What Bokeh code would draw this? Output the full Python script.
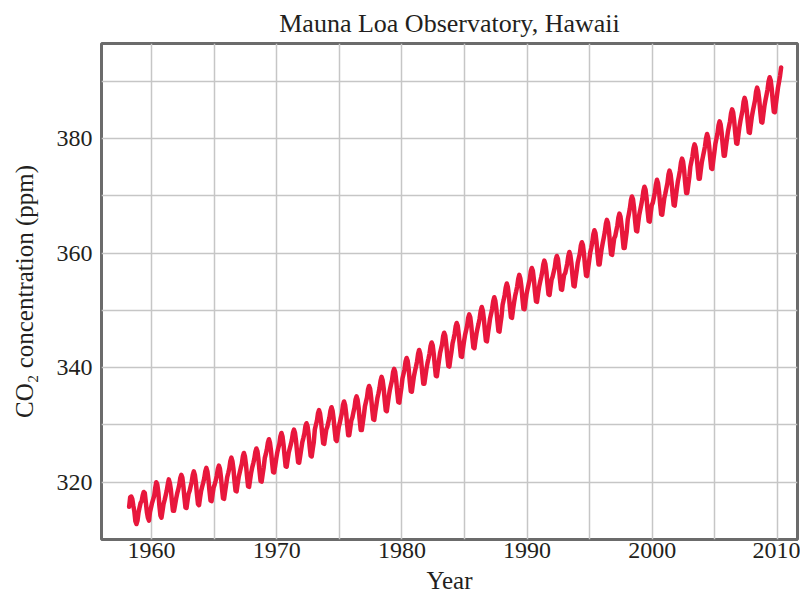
from bokeh.plotting import figure
from bokeh.models import FixedTicker
from bokeh.embed import file_html
from bokeh.resources import INLINE

# Monthly CO2 (ppm), Mauna Loa, starting March 1958
start_year = 1958
start_month = 3

co2_1950s = [315.7, 317.4, 317.5, 317.1, 315.9, 314.9, 313.2, 312.7, 313.3, 314.7,
             315.6, 316.4, 316.7, 317.7, 318.3, 318.1, 316.5, 314.8, 313.8, 313.3, 314.8, 315.6]

co2_1960s = [316.4, 317.0, 317.6, 319.0, 320.0, 319.6, 318.2, 315.9, 314.2, 313.8, 315.0, 316.2,
             316.9, 317.7, 318.5, 319.6, 320.5, 319.9, 318.7, 316.7, 315.0, 315.0, 316.0, 317.1,
             318.0, 318.7, 319.5, 320.7, 321.3, 320.8, 319.3, 317.3, 315.6, 315.5, 316.8, 318.0,
             318.5, 319.3, 320.1, 321.3, 321.9, 321.3, 319.9, 317.9, 316.2, 316.0, 317.3, 318.5,
             319.2, 319.9, 320.7, 321.9, 322.5, 321.9, 320.5, 318.5, 316.8, 316.7, 317.9, 319.1,
             319.6, 320.3, 321.1, 322.3, 322.9, 322.4, 320.9, 318.9, 317.2, 317.1, 318.4, 319.6,
             320.9, 321.6, 322.4, 323.7, 324.3, 323.7, 322.3, 320.2, 318.5, 318.4, 319.7, 320.9,
             321.7, 322.5, 323.2, 324.5, 325.1, 324.5, 323.1, 321.1, 319.3, 319.2, 320.5, 321.7,
             322.6, 323.3, 324.1, 325.3, 325.9, 325.4, 323.9, 321.9, 320.2, 320.1, 321.4, 322.6,
             324.2, 324.9, 325.7, 326.9, 327.5, 326.9, 325.5, 323.5, 321.8, 321.7, 322.9, 324.1]

co2_1970s = [325.2, 326.0, 326.7, 328.0, 328.6, 328.0, 326.6, 324.6, 322.8, 322.7, 324.0, 325.2,
             325.9, 326.6, 327.4, 328.6, 329.2, 328.6, 327.2, 325.2, 323.5, 323.4, 324.6, 325.8,
             327.0, 327.7, 328.5, 329.8, 330.3, 329.8, 328.4, 326.3, 324.6, 324.5, 325.8, 327.0,
             329.2, 330.0, 330.7, 332.0, 332.6, 332.0, 330.6, 328.6, 326.8, 326.7, 328.0, 329.2,
             329.7, 330.5, 331.3, 332.5, 333.1, 332.5, 331.1, 329.1, 327.4, 327.2, 328.5, 329.7,
             330.4, 331.3, 332.1, 333.5, 334.1, 333.5, 332.1, 330.0, 328.2, 328.2, 329.5, 330.8,
             331.3, 332.2, 333.0, 334.4, 335.0, 334.4, 333.0, 330.9, 329.1, 329.1, 330.4, 331.7,
             333.2, 334.0, 334.8, 336.2, 336.8, 336.3, 334.8, 332.7, 331.0, 330.9, 332.3, 333.5,
             334.7, 335.5, 336.4, 337.7, 338.4, 337.8, 336.4, 334.3, 332.5, 332.4, 333.8, 335.1,
             336.2, 337.0, 337.8, 339.2, 339.8, 339.3, 337.8, 335.7, 334.0, 333.9, 335.3, 336.5]

co2_1980s = [338.1, 338.9, 339.7, 341.1, 341.7, 341.2, 339.7, 337.6, 335.9, 335.8, 337.2, 338.5,
             339.4, 340.2, 341.1, 342.4, 343.1, 342.5, 341.1, 339.0, 337.2, 337.2, 338.5, 339.8,
             340.8, 341.6, 342.5, 343.8, 344.4, 343.9, 342.4, 340.4, 338.6, 338.5, 339.9, 341.2,
             342.5, 343.3, 344.1, 345.5, 346.1, 345.6, 344.1, 342.0, 340.3, 340.2, 341.6, 342.8,
             344.2, 345.0, 345.9, 347.2, 347.8, 347.3, 345.8, 343.8, 342.0, 341.9, 343.3, 344.6,
             345.7, 346.5, 347.3, 348.7, 349.3, 348.8, 347.3, 345.2, 343.5, 343.4, 344.8, 346.0,
             346.9, 347.7, 348.6, 349.9, 350.6, 350.0, 348.6, 346.5, 344.7, 344.6, 346.0, 347.3,
             348.6, 349.4, 350.3, 351.6, 352.3, 351.7, 350.3, 348.2, 346.4, 346.3, 347.7, 349.0,
             351.0, 351.8, 352.7, 354.0, 354.7, 354.1, 352.6, 350.6, 348.8, 348.7, 350.1, 351.4,
             352.5, 353.3, 354.2, 355.5, 356.2, 355.6, 354.2, 352.1, 350.3, 350.2, 351.6, 352.9]

co2_1990s = [353.8, 354.6, 355.4, 356.8, 357.4, 356.9, 355.4, 353.3, 351.6, 351.5, 352.9, 354.1,
             355.0, 355.8, 356.7, 358.0, 358.7, 358.1, 356.7, 354.6, 352.8, 352.7, 354.1, 355.4,
             355.9, 356.7, 357.5, 358.9, 359.5, 359.0, 357.5, 355.4, 353.7, 353.6, 355.0, 356.2,
             356.5, 357.3, 358.2, 359.5, 360.2, 359.6, 358.2, 356.1, 354.3, 354.2, 355.6, 356.9,
             358.3, 359.1, 359.9, 361.3, 361.9, 361.4, 359.9, 357.8, 356.1, 356.0, 357.4, 358.7,
             360.1, 360.9, 361.9, 363.3, 364.0, 363.5, 362.0, 359.8, 358.0, 358.0, 359.5, 360.8,
             361.8, 362.7, 363.7, 365.1, 365.8, 365.3, 363.8, 361.6, 359.8, 359.7, 361.2, 362.6,
             363.0, 363.9, 364.8, 366.2, 366.9, 366.4, 364.9, 362.8, 360.9, 360.9, 362.4, 363.8,
             365.9, 366.8, 367.8, 369.2, 369.9, 369.4, 367.9, 365.7, 363.9, 363.8, 365.3, 366.7,
             367.6, 368.5, 369.5, 370.9, 371.6, 371.1, 369.6, 367.4, 365.6, 365.5, 367.0, 368.4]

co2_2000s = [368.8, 369.7, 370.6, 372.0, 372.8, 372.2, 370.7, 368.6, 366.8, 366.7, 368.2, 369.6,
             370.4, 371.3, 372.2, 373.7, 374.4, 373.8, 372.3, 370.2, 368.4, 368.3, 369.8, 371.2,
             372.5, 373.4, 374.4, 375.8, 376.5, 376.0, 374.5, 372.3, 370.5, 370.5, 371.9, 373.3,
             375.1, 376.0, 376.9, 378.3, 379.0, 378.5, 377.0, 374.9, 373.0, 373.0, 374.5, 375.9,
             376.8, 377.7, 378.6, 380.0, 380.8, 380.2, 378.7, 376.6, 374.8, 374.7, 376.2, 377.6,
             379.1, 380.0, 380.9, 382.3, 383.0, 382.5, 381.0, 378.9, 377.0, 377.0, 378.5, 379.9,
             381.2, 382.1, 383.0, 384.4, 385.1, 384.6, 383.1, 381.0, 379.2, 379.1, 380.6, 382.0,
             383.1, 384.0, 384.9, 386.4, 387.1, 386.5, 385.0, 382.9, 381.1, 381.0, 382.5, 383.9,
             384.9, 385.8, 386.7, 388.2, 388.9, 388.3, 386.9, 384.7, 382.9, 382.8, 384.3, 385.7,
             386.7, 387.6, 388.6, 390.0, 390.7, 390.2, 388.7, 386.5, 384.7, 384.6, 386.1, 387.5]

co2_2010 = [388.9, 389.9, 391.0, 392.4]

x_major_ticks = [1960, 1970, 1980, 1990, 2000, 2010]
x_grid_ticks = [1960, 1965, 1970, 1975, 1980, 1985, 1990, 1995, 2000, 2005, 2010]
y_major_ticks = [320, 340, 360, 380]
y_grid_ticks = [320, 330, 340, 350, 360, 370, 380, 390]

co2 = co2_1950s + co2_1960s + co2_1970s + co2_1980s + co2_1990s + co2_2000s + co2_2010
dates = [start_year + (start_month - 1 + i + 0.5) / 12.0 for i in range(len(co2))]

FONT = "Liberation Serif"
TEXT = "#231f20"

p = figure(width=800, height=597, x_range=(1956.0, 2011.6), y_range=(310.0, 396.6),
           output_backend="svg", toolbar_location=None,
           title="Mauna Loa Observatory, Hawaii",
           min_border_left=101, min_border_right=3, min_border_top=43, min_border_bottom=58)

p.title.align = "center"
p.title.text_font = FONT
p.title.text_font_style = "normal"
p.title.text_font_size = "26px"
p.title.text_color = TEXT
p.title.standoff = 12

p.outline_line_color = "#6b6b6b"
p.outline_line_width = 3
p.background_fill_color = "white"
p.border_fill_color = "white"

p.xaxis.ticker = FixedTicker(ticks=x_major_ticks)
p.yaxis.ticker = FixedTicker(ticks=y_major_ticks)
p.xgrid.ticker = FixedTicker(ticks=x_grid_ticks)
p.ygrid.ticker = FixedTicker(ticks=y_grid_ticks)

for g in (p.xgrid, p.ygrid):
    g.grid_line_color = "#c6c6c6"
    g.grid_line_width = 1.5

for ax in (p.xaxis, p.yaxis):
    ax.axis_line_color = None
    ax.major_tick_line_color = None
    ax.minor_tick_line_color = None
    ax.major_tick_out = 0
    ax.major_tick_in = 0
    ax.minor_tick_out = 0
    ax.major_label_text_font = FONT
    ax.major_label_text_font_size = "24px"
    ax.major_label_text_color = TEXT
    ax.axis_label_text_font = FONT
    ax.axis_label_text_font_size = "25px"
    ax.axis_label_text_font_style = "normal"
    ax.axis_label_text_color = TEXT

p.xaxis.axis_label = "Year"
p.yaxis.axis_label = "CO\u2082 concentration (ppm)"
p.xaxis.major_label_standoff = 3
p.xaxis.axis_label_standoff = 6
p.yaxis.major_label_standoff = 9
p.yaxis.axis_label_standoff = 16

p.line(dates, co2, line_color="#e8173c", line_width=4.5, line_join="round", line_cap="round")

open("out.html", "w").write(file_html(p, INLINE))
